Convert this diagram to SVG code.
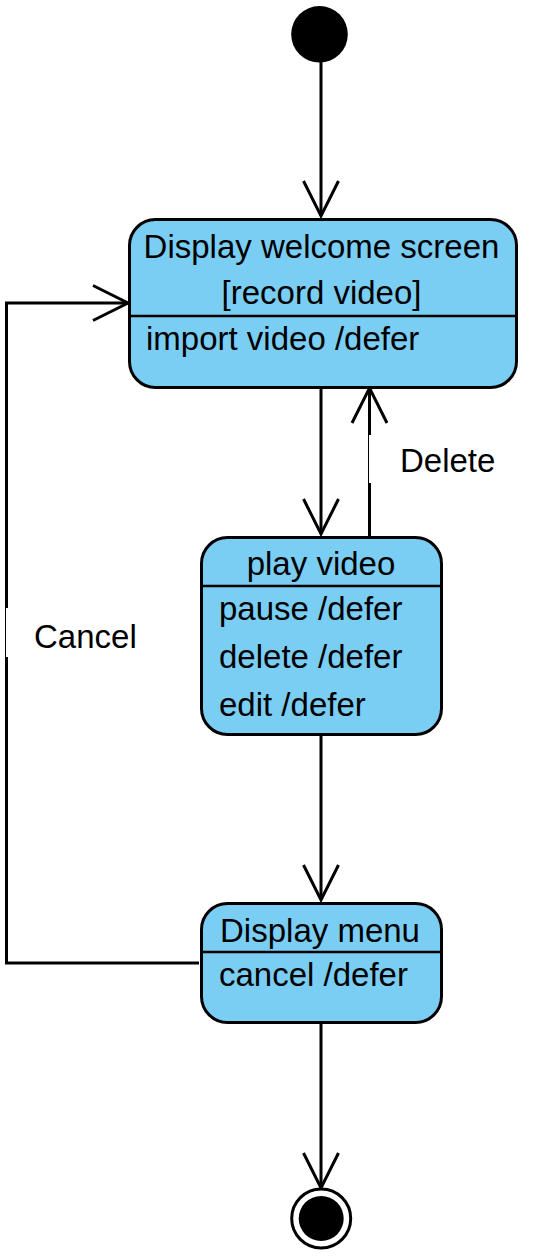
<svg xmlns="http://www.w3.org/2000/svg" width="537" height="1260" viewBox="0 0 537 1260">
<style>
.state{fill:#7ACEF4;stroke:#000;stroke-width:3}
.div{stroke:#000;stroke-width:2.5}
.t{font-family:"Liberation Sans",Arial,sans-serif;font-size:33px;fill:#000}
.c{text-anchor:middle}
.edge{fill:none;stroke:#000;stroke-width:3;marker-end:url(#arr)}
.lblbg{fill:#fff}
</style>
<defs>
<marker id="arr" markerUnits="userSpaceOnUse" markerWidth="80" markerHeight="80" refX="0" refY="0" orient="auto" overflow="visible">
<path d="M-35,-17.5 L0,0 L-35,17.5" fill="none" stroke="#000" stroke-width="3"/>
</marker>
</defs>
<g id="connectors">
<path class="edge" d="M321,62 L321,216"/>
<path class="edge" d="M321,388 L321,534"/>
<path class="edge" d="M369.5,537 L369.5,388"/>
<rect class="lblbg" x="369" y="435" width="130" height="48"/>
<text class="t" x="400" y="472">Delete</text>
<path class="edge" d="M321,735 L321,900"/>
<path class="edge" d="M199,963 L6.5,963 L6.5,303 L128,303"/>
<rect class="lblbg" x="6" y="608" width="135" height="49"/>
<text class="t" x="34" y="648">Cancel</text>
<path class="edge" d="M321,1023 L321,1188"/>
</g>
<g id="initial">
<circle cx="319.5" cy="34.3" r="28.3" fill="#000"/>
</g>
<g id="welcome">
<rect class="state" x="129.5" y="219.5" width="387" height="168" rx="26" ry="26"/>
<line class="div" x1="129.5" y1="316" x2="516.5" y2="316"/>
<text class="t c" x="321.5" y="258">Display welcome screen</text>
<text class="t c" x="321.5" y="304">[record video]</text>
<text class="t" x="146" y="350">import video /defer</text>
</g>
<g id="play">
<rect class="state" x="201.5" y="537.5" width="240" height="197" rx="26" ry="26"/>
<line class="div" x1="201.5" y1="586" x2="441.5" y2="586"/>
<text class="t c" x="321" y="575">play video</text>
<text class="t" x="219" y="620">pause /defer</text>
<text class="t" x="219" y="668">delete /defer</text>
<text class="t" x="219" y="716">edit /defer</text>
</g>
<g id="menu">
<rect class="state" x="201.5" y="903.5" width="240" height="119" rx="26" ry="26"/>
<line class="div" x1="201.5" y1="952" x2="441.5" y2="952"/>
<text class="t c" x="320" y="942">Display menu</text>
<text class="t" x="219" y="986">cancel /defer</text>
</g>
<g id="final">
<circle cx="321.2" cy="1218.5" r="29.5" fill="#fff" stroke="#000" stroke-width="3"/>
<circle cx="321.2" cy="1218.5" r="22.5" fill="#000"/>
</g>
</svg>
